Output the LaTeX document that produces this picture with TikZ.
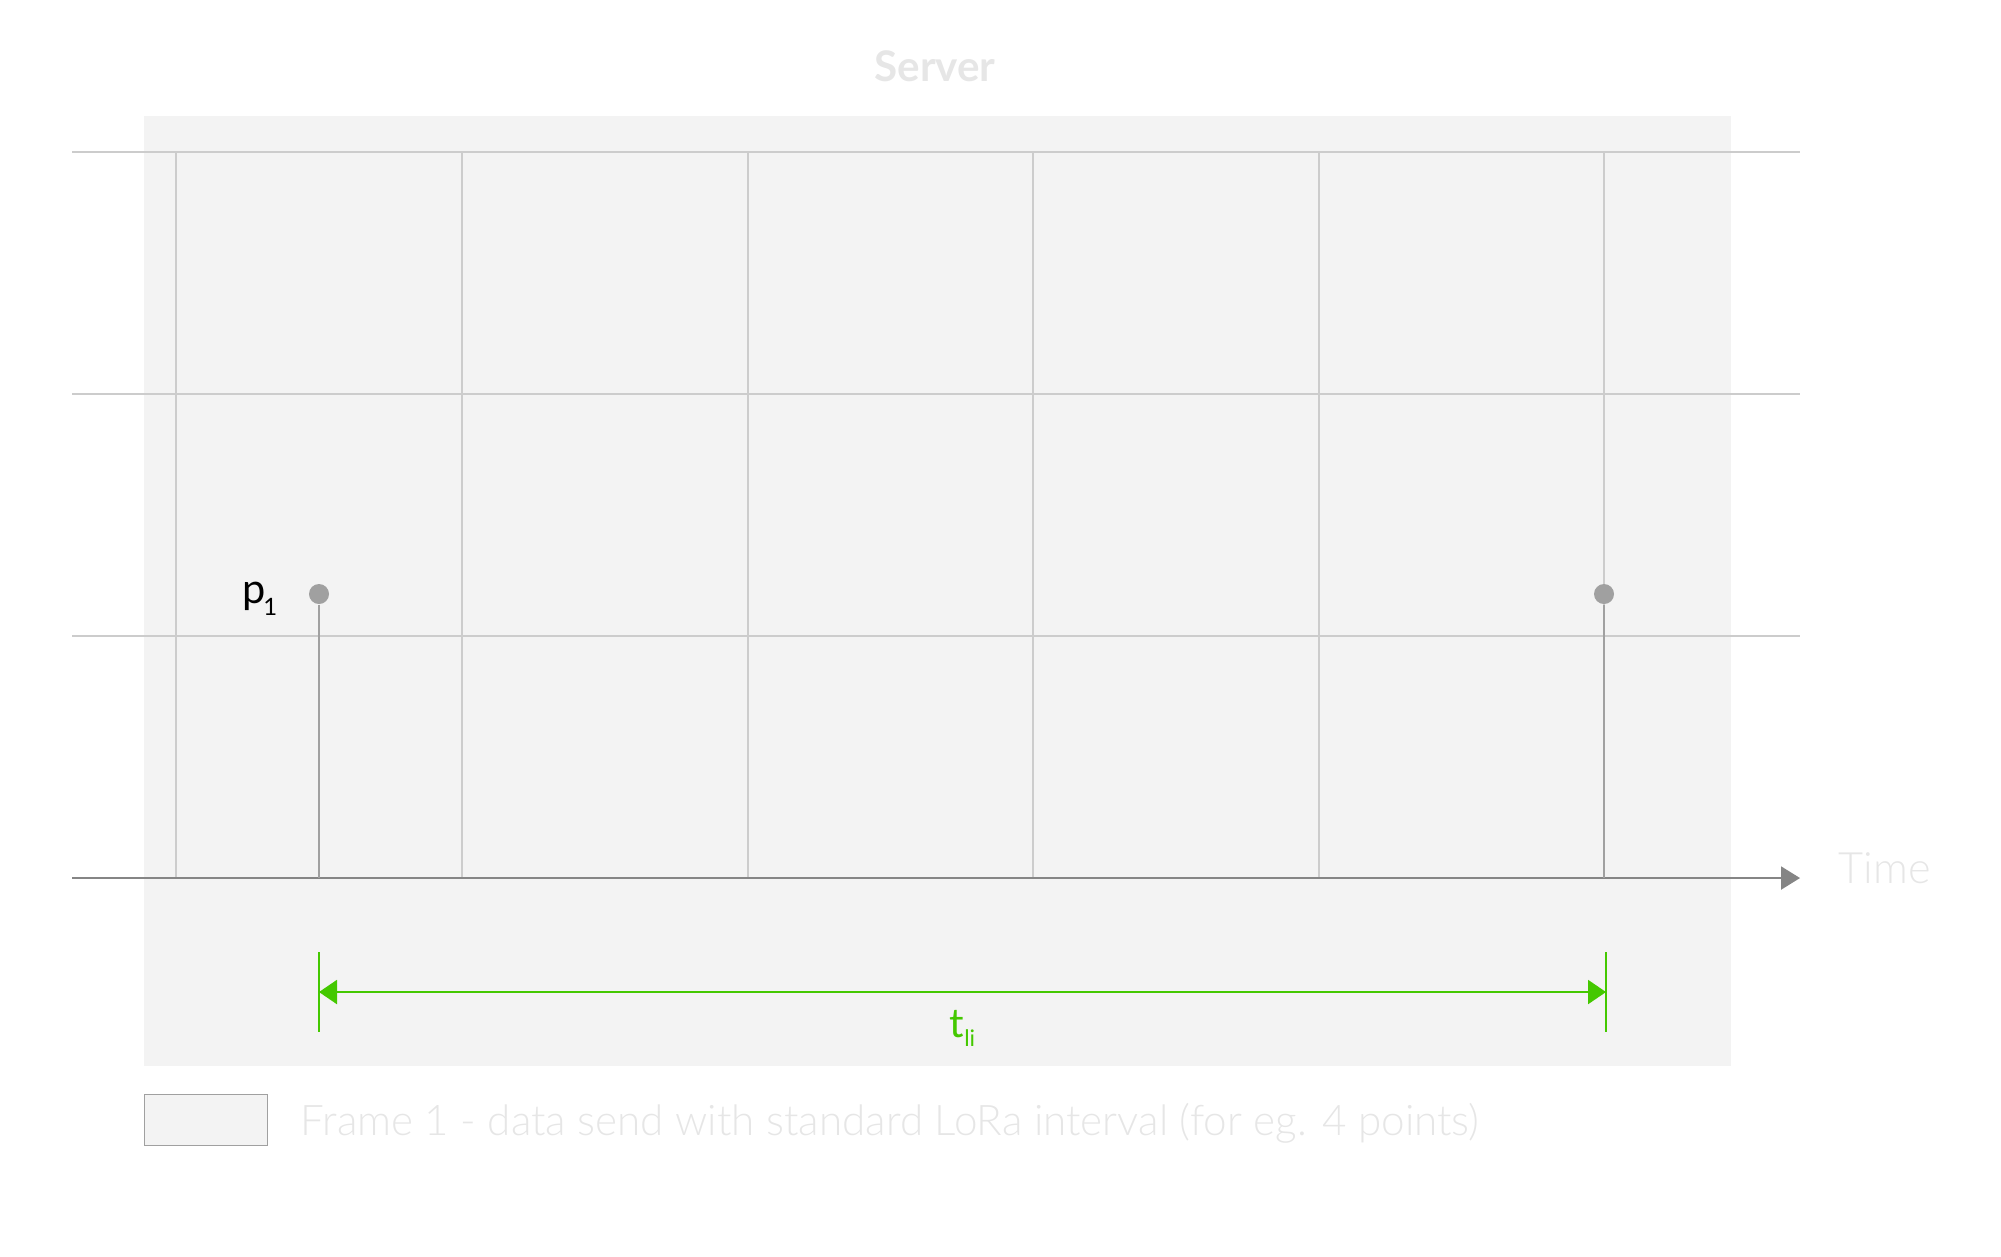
\documentclass[tikz,border=0pt]{standalone}
\usepackage{fontspec}
\setmainfont{Lato}
\newfontfamily\lightfont{Lato Light}
\usepackage{xcolor}
\usetikzlibrary{positioning, calc, arrows.meta}

\definecolor{framebg}{HTML}{F3F3F3}
\definecolor{gridgray}{HTML}{CCCCCC}
\definecolor{axisgray}{HTML}{858585}
\definecolor{pointgray}{HTML}{A0A0A0}
\definecolor{faintgray}{HTML}{E6E6E6}
\definecolor{tgreen}{HTML}{44C800}

\tikzset{
  gridline/.style={gridgray, line width=0.45pt},
  stem/.style={pointgray, line width=0.6pt},
  point/.style={circle, fill=pointgray, inner sep=0pt, minimum size=0.2cm},
  faint/.style={text=faintgray, inner sep=0pt},
  dimline/.style={tgreen, line width=0.6pt},
}

\begin{document}
\begin{tikzpicture}[x=0.01cm, y=-0.01cm]
  \useasboundingbox (0,0) rectangle (2001,1256);

  % frame background
  \fill[framebg] (144,116) rectangle (1731,1066);

  % grid
  \foreach \y in {152,394,636}
    \draw[gridline] (72,\y) -- (1800,\y);
  \foreach \x in {176,462,748,1033,1319,1604}
    \draw[gridline] (\x,152) -- (\x,878);

  % time axis
  \coordinate (origin) at (72,878);
  \coordinate (tend) at (1800,878);
  \draw[axisgray, line width=0.6pt, -{Triangle[length=0.19cm, width=0.23cm]}] (origin) -- (tend);
  \node[faint, anchor=base west, font=\lightfont\fontsize{12.3}{14}\selectfont] (time) at (1838,883) {Time};

  % title
  \node[faint, anchor=base, font=\bfseries\fontsize{12}{14}\selectfont] (server) at (935,81) {Server};

  % points
  \node[point] (p1) at (319,594) {};
  \node[point] (p2) at (1604,594) {};
  \draw[stem] (p1.south) -- (p1.south |- origin);
  \draw[stem] (p2.south) -- (p2.south |- origin);
  \node[anchor=base east, inner sep=0pt, font=\fontsize{11.8}{13}\selectfont] (p1lab) at (278,603)
    {p\kern-0.6pt\raisebox{-0.12cm}{\fontsize{6.8}{7}\selectfont 1}};

  % interval t_li
  \coordinate (dimL) at (p1 |- 0,992);
  \coordinate (dimR) at (1606,992);
  \draw[dimline, line width=0.7pt] (p1 |- 0,952) -- (p1 |- 0,1032);
  \draw[dimline, line width=0.7pt] (1606,952) -- (1606,1032);
  \draw[dimline, {Triangle[length=0.18cm, width=0.24cm]}-{Triangle[length=0.18cm, width=0.24cm]}] (dimL) -- (dimR);
  \node[anchor=base, inner sep=0pt, text=tgreen, font=\fontsize{11.5}{13}\selectfont] (tli) at ($(dimL)!0.5!(dimR)+(0,45)$)
    {t\raisebox{-0.09cm}{\fontsize{6.5}{7}\selectfont li}};

  % legend
  \node[draw=pointgray, fill=framebg, line width=0.4pt, inner sep=0pt, minimum width=1.23cm, minimum height=0.51cm, anchor=north west] (legbox) at (144,1094) {};
  \node[faint, anchor=base west, font=\lightfont\fontsize{12}{14}\selectfont] (legtext) at (300,1135)
    {Frame 1 - data send with standard LoRa interval (for eg. 4 points)};
\end{tikzpicture}
\end{document}
